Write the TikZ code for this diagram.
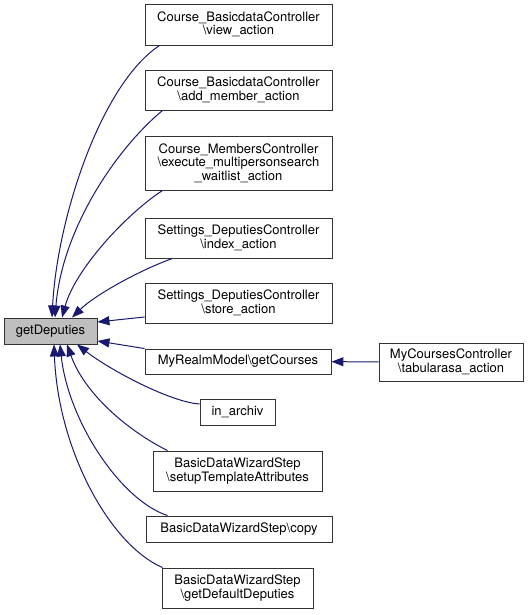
\documentclass[tikz,border=0pt]{standalone}
\usepackage{fontspec}
\setmainfont{TeX Gyre Heros}
\usetikzlibrary{arrows.meta}

\definecolor{edgeblue}{HTML}{191970}
\definecolor{selgray}{HTML}{BFBFBF}

\tikzset{
	fn/.style={draw=black!80, line width=0.9pt, align=center, inner sep=0pt, font=\fontsize{13}{13.5}\selectfont},
	call/.style={draw=edgeblue, line width=1pt, -{Triangle[length=12pt,width=9pt]}},
}

\begin{document}
\begin{tikzpicture}[x=1pt,y=1pt]
	\useasboundingbox (0,0) rectangle (529,615);
	%\draw[help lines] (0,0) grid[step=50] (529,615);

	\node[fn, fill=selgray, minimum width=93pt, minimum height=26pt] (getDep) at (50.5,284) {getDeputies};

	\node[fn, minimum width=187pt, minimum height=41pt] (viewAct) at (238.5,590.5) {Course\_BasicdataController\\\textbackslash view\_action};
	\node[fn, minimum width=187pt, minimum height=40pt] (addMember) at (238.5,525) {Course\_BasicdataController\\\textbackslash add\_member\_action};
	\node[fn, minimum width=187pt, minimum height=54pt] (waitlist) at (238.5,452) {Course\_MembersController\\\textbackslash execute\_multipersonsearch\\\_waitlist\_action};
	\node[fn, minimum width=187pt, minimum height=40pt] (indexAct) at (238.5,377) {Settings\_DeputiesController\\\textbackslash index\_action};
	\node[fn, minimum width=187pt, minimum height=40pt] (storeAct) at (238.5,312) {Settings\_DeputiesController\\\textbackslash store\_action};
	\node[fn, minimum width=186pt, minimum height=25pt] (getCourses) at (238,253.5) {MyRealmModel\textbackslash getCourses};
	\node[fn, minimum width=75pt, minimum height=26pt] (inArchiv) at (237.5,203) {in\_archiv};
	\node[fn, minimum width=169pt, minimum height=40pt] (setupTpl) at (237.5,144) {BasicDataWizardStep\\\textbackslash setupTemplateAttributes};
	\node[fn, minimum width=186pt, minimum height=26pt] (wizCopy) at (239,86) {BasicDataWizardStep\textbackslash copy};
	\node[fn, minimum width=151pt, minimum height=40pt] (defDep) at (237.5,27) {BasicDataWizardStep\\\textbackslash getDefaultDeputies};
	\node[fn, minimum width=144pt, minimum height=38pt] (tabulaRasa) at (451,253) {MyCoursesController\\\textbackslash tabularasa\_action};

	% callers above
	\draw[call] ([xshift=15pt]viewAct.south west) .. controls (100,530) and (57,395) .. ([xshift=1.5pt]getDep.north);
	\draw[call] ([xshift=18pt]addMember.south west) .. controls (115,465) and (62,385) .. ([xshift=4.5pt]getDep.north);
	\draw[call] ([xshift=18pt]waitlist.south west) .. controls (125,400) and (75,345) .. ([xshift=11.5pt]getDep.north);
	\draw[call] ([xshift=28pt]indexAct.south west) .. controls (140,345) and (95,320) .. ([xshift=21.5pt]getDep.north);
	\draw[call] ([yshift=-14pt]storeAct.west) -- ([yshift=9pt]getDep.east);
	\draw[call] (getCourses.north west) -- ([yshift=-10pt]getDep.east);

	% callers below
	\draw[call] ([yshift=8pt]inArchiv.west) .. controls (170,213) and (110,245) .. ([xshift=26.5pt]getDep.south);
	\draw[call] ([xshift=15pt]setupTpl.north west) .. controls (130,183) and (85,220) .. ([xshift=16.5pt]getDep.south);
	\draw[call] ([xshift=22pt]wizCopy.north west) .. controls (120,115) and (68,195) .. ([xshift=9.5pt]getDep.south);
	\draw[call] ([xshift=1pt]defDep.north west) .. controls (110,70) and (58,165) .. ([xshift=3.5pt]getDep.south);

	\draw[call] (tabulaRasa) -- (getCourses);

\end{tikzpicture}
\end{document}
